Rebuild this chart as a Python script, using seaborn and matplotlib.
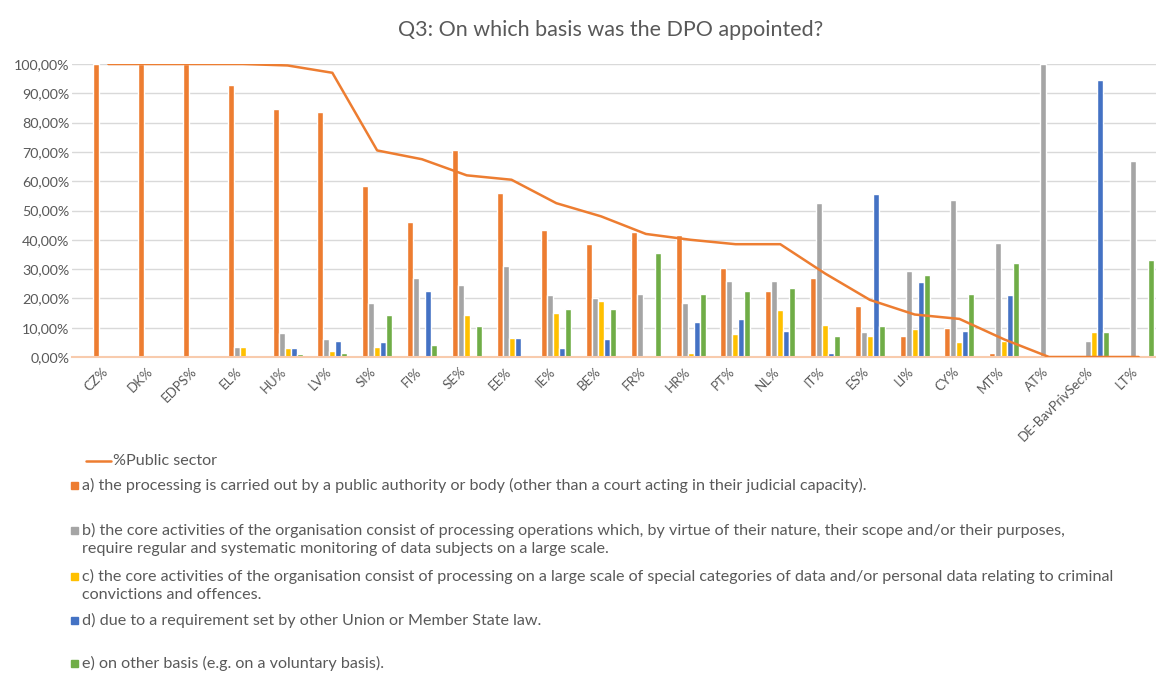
import numpy as np
import pandas as pd
import matplotlib
matplotlib.use("Agg")
import matplotlib.pyplot as plt
import matplotlib.ticker as mticker
import matplotlib.transforms as mtrans
from matplotlib.patches import Rectangle
from matplotlib.lines import Line2D
import seaborn as sns

# data (percent)
countries = ["CZ%", "DK%", "EDPS%", "EL%", "HU%", "LV%", "SI%", "FI%", "SE%", "EE%",
             "IE%", "BE%", "FR%", "HR%", "PT%", "NL%", "IT%", "ES%", "LI%", "CY%",
             "MT%", "AT%", "DE-BavPrivSec%", "LT%"]
basis_a = [100, 100, 100, 93, 84.5, 83.5, 58.5, 46, 70.5, 56, 43.5, 38.5, 42.5, 41.5,
           30.5, 22.5, 27, 17.5, 7, 10, 1.5, 0, 0, 0]
basis_b = [0, 0, 0, 3.5, 8.2, 6, 18.5, 27, 24.5, 31, 21, 20, 21.5, 18.5,
           26, 26, 52.5, 8.5, 29.5, 53.5, 39, 100, 5.5, 67]
basis_c = [0, 0, 0, 3.5, 3, 2, 3.5, 0, 14.5, 6.5, 15, 19, 0, 1.5,
           8, 16, 11, 7, 9.5, 5, 5.5, 0, 8.5, 0]
basis_d = [0, 0, 0, 0, 3, 5.5, 5, 22.5, 0, 6.5, 3, 6, 0, 12,
           13, 9, 1.5, 55.5, 25.5, 9, 21, 0, 94.5, 0]
basis_e = [0, 0, 0, 0, 1, 1.5, 14.5, 4, 10.5, 0, 16.5, 16.5, 35.5, 21.5,
           22.5, 23.5, 7, 10.5, 28, 21.5, 32, 0, 8.5, 33]
public_sector = [100, 100, 100, 100, 99.5, 97, 70.5, 67.5, 62, 60.5, 52.5, 48, 42, 40,
                 38.5, 38.5, 28.5, 19.5, 14.5, 13, 6, 0, 0, 0]

basis_labels = [
    "a) the processing is carried out by a public authority or body (other than a court acting in their judicial capacity).",
    "b) the core activities of the organisation consist of processing operations which, by virtue of their nature, their scope and/or their purposes,\nrequire regular and systematic monitoring of data subjects on a large scale.",
    "c) the core activities of the organisation consist of processing on a large scale of special categories of data and/or personal data relating to criminal\nconvictions and offences.",
    "d) due to a requirement set by other Union or Member State law.",
    "e) on other basis (e.g. on a voluntary basis).",
]
colors = ["#ED7D31", "#A5A5A5", "#FFC000", "#4472C4", "#70AD47"]

series = [basis_a, basis_b, basis_c, basis_d, basis_e]
df = pd.DataFrame({
    "country": countries * 5,
    "value": sum(series, []),
    "basis": sum([[lab] * len(countries) for lab in basis_labels], []),
})

sns.set_style("white")
plt.rcParams["font.family"] = ["Lato", "DejaVu Sans"]
txt = "#595959"

fig = plt.figure(figsize=(11.56, 6.73), dpi=100)
W, H = 1156, 673
# category slots are ~44.8px wide, first slot starts at x=86, gridlines start at x=72
slot = 44.8
ax = fig.add_axes([72 / W, (H - 357) / H, (1161 - 72) / W, (357 - 64) / H])

sns.barplot(data=df, x="country", y="value", hue="basis", palette=colors,
            hue_order=basis_labels, order=countries, width=0.67, legend=False,
            saturation=1, ax=ax, errorbar=None)
ax.plot(np.arange(len(countries)), public_sector, color="#ED7D31", lw=1.8, zorder=5)

ax.set_xlim(-0.5 - 14 / slot, len(countries) - 0.5)
ax.set_ylim(0, 100)
ax.yaxis.set_major_locator(mticker.MultipleLocator(10))
ax.yaxis.set_major_formatter(mticker.FuncFormatter(lambda v, p: f"{v:.2f}%".replace(".", ",")))
ax.grid(axis="y", color="#D9D9D9", lw=1)
ax.set_axisbelow(True)
for s in ["top", "right", "left"]:
    ax.spines[s].set_visible(False)
ax.spines["bottom"].set_color("#F8CBAD")
ax.spines["bottom"].set_linewidth(1.5)
ax.set_xlabel("")
ax.set_ylabel("")
ax.tick_params(axis="y", length=0, labelsize=10.3, labelcolor=txt, pad=2)
ax.tick_params(axis="x", which="major", length=0, labelsize=9.5, labelcolor=txt, pad=6)
ax.set_xticks(np.arange(-0.5, len(countries), 1), minor=True)
ax.tick_params(axis="x", which="minor", length=4, color="#D9D9D9")
shift = mtrans.ScaledTranslation(-7 / 100, 0, fig.dpi_scale_trans)
for lbl in ax.get_xticklabels():
    lbl.set_rotation(45)
    lbl.set_ha("right")
    lbl.set_rotation_mode("anchor")
    lbl.set_transform(lbl.get_transform() + shift)

fig.text(611 / W, 1 - 30 / H, "Q3: On which basis was the DPO appointed?",
         ha="center", va="center", fontsize=15.5, color=txt)

# legend, laid out like the original (irregular spacing)
fs_leg = 11.6
fig.add_artist(Line2D([86 / W, 111 / W], [1 - 461 / H] * 2, color="#ED7D31", lw=1.8))
fig.text(113 / W, 1 - 461 / H, "%Public sector", va="center", fontsize=fs_leg, color=txt)
leg_y = [485, 530, 576, 620, 663]
for lab, col, y in zip(basis_labels, colors, leg_y):
    fig.add_artist(Rectangle((71 / W, 1 - (y + 3.5) / H), 7 / W, 7 / H, color=col,
                             transform=fig.transFigure))
    for i, line in enumerate(lab.split("\n")):
        fig.text(82 / W, 1 - (y + 19 * i) / H, line, va="center", fontsize=fs_leg, color=txt)

fig.savefig("out.png", dpi=100)
